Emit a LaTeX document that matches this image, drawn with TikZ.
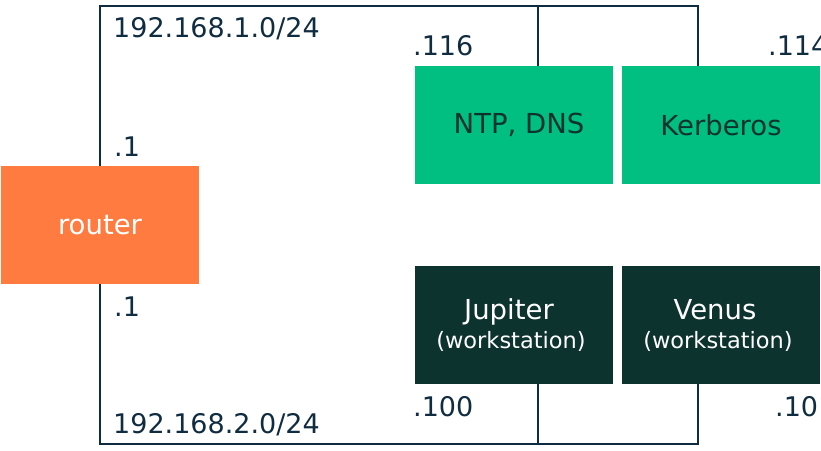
\documentclass[tikz,border=0pt]{standalone}
\usepackage{fontspec}
\setmainfont{DejaVu Sans}
\usepackage{xcolor}
\usetikzlibrary{positioning}
\definecolor{xorange}{RGB}{255,123,64}
\definecolor{xgreen}{RGB}{0,191,128}
\definecolor{xnight}{RGB}{13,51,46}
\definecolor{xnavy}{RGB}{16,44,64}
\begin{document}
\begin{tikzpicture}[
  x=1pt, y=-1pt,
  host/.style={fill=#1, draw=none, inner sep=0pt,
               minimum width=198pt, minimum height=118pt,
               align=center, font=\fontsize{27.5}{29}\selectfont},
  bus/.style={draw=xnavy, line width=2pt},
  addr/.style={anchor=west, inner sep=0pt, text=xnavy,
               font=\fontsize{27}{29}\selectfont}
]
  \useasboundingbox (0,0) rectangle (821,450);

  % hosts
  \node[host=xorange, text=white]  (router) at (100,225) {router};
  \node[host=xgreen,  text=xnight] (ntp)    at (514,125) {\hspace*{10pt}NTP, DNS};
  \node[host=xgreen,  text=xnight] (kerb)   at (721,125) {Kerberos};
  \node[host=xnight,  text=white]  (jup)    at (514,325)
    {Jupiter\hspace*{10pt}\\{\fontsize{22.5}{29}\selectfont (workstation)\hspace*{6pt}}};
  \node[host=xnight,  text=white]  (venus)  at (721,325)
    {Venus\hspace*{12pt}\\{\fontsize{22.5}{29}\selectfont (workstation)\hspace*{6pt}}};

  % networks
  \coordinate (lan1) at (100,6);
  \coordinate (lan2) at (100,444);
  \draw[bus] (router.north) -- (lan1) -| ([xshift=-23pt]kerb.north);
  \draw[bus] ([xshift=24pt]ntp.north) -- ([xshift=24pt]ntp.north |- lan1);
  \draw[bus] (router.south) -- (lan2) -| ([xshift=-23pt]venus.south);
  \draw[bus] ([xshift=24pt]jup.south) -- ([xshift=24pt]jup.south |- lan2);

  % addresses
  \node[addr] (net1) at (113,29)  {192.168.1.0/24};
  \node[addr] (net2) at (113,425) {192.168.2.0/24};
  \node[addr] (r1)   at (114,147) {.1};
  \node[addr] (r2)   at (114,307) {.1};
  \node[addr] (a116) at (413,46)  {.116};
  \node[addr] (a114) at (768,46)  {.114};
  \node[addr] (a100) at (413,407) {.100};
  \node[addr] (a101) at (775,407) {.101};
\end{tikzpicture}
\end{document}
